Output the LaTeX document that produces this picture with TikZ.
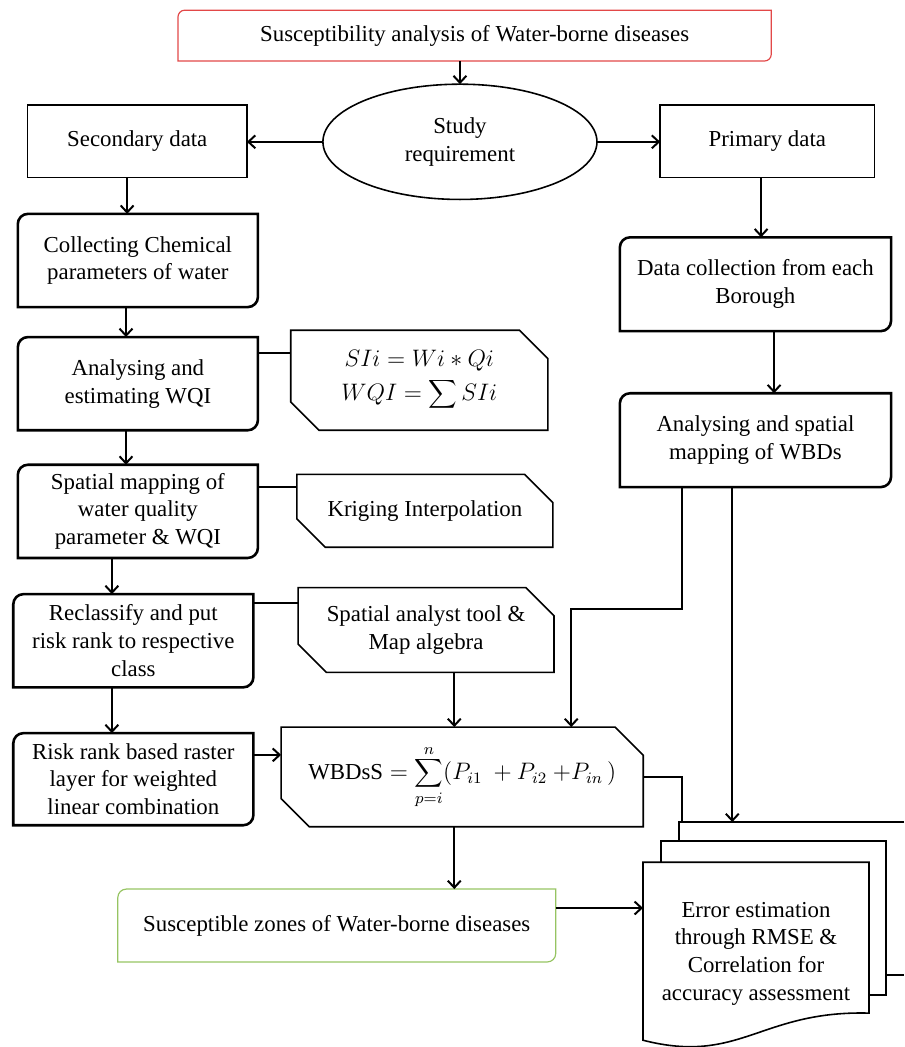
\documentclass[tikz,border=0pt]{standalone}
\usepackage{fontspec}
\setmainfont{Liberation Serif}
\usetikzlibrary{shapes.geometric,shapes.misc,arrows.meta}

\definecolor{titlered}{RGB}{226,72,72}
\definecolor{zonegreen}{RGB}{150,196,98}

\tikzset{
  every node/.style={font=\fontsize{11.5}{14}\selectfont, align=center, inner sep=2pt, outer sep=0pt},
  plainbox/.style={draw, line width=0.8pt, minimum width=3.88cm, minimum height=1.29cm},
  procbox/.style={minimum width=4.25cm, minimum height=1.65cm},
  snipbox/.style={draw, line width=0.8pt, chamfered rectangle,
    chamfered rectangle corners={north east,south west},
    chamfered rectangle xsep=0.25cm, chamfered rectangle ysep=0.25cm,
    minimum width=4.53cm, minimum height=1.29cm},
  conn/.style={line width=1pt, >={Straight Barb[length=3.5pt,width=6.5pt]}},
  thinconn/.style={line width=0.8pt},
  page/.style={draw, fill=white, line width=0.8pt}
}

\begin{document}
\begin{tikzpicture}
  \useasboundingbox (0,0) rectangle (16,-18.53);

  % top of the chart
  \node[minimum width=10.5cm, minimum height=0.9cm] (title) at (8.40,-0.63) {Susceptibility analysis of Water-borne diseases};
  \node[draw, ellipse, line width=0.8pt, minimum width=4.85cm, minimum height=2.04cm] (study) at (8.14,-2.51) {Study\\requirement};
  \node[plainbox] (secondary) at (2.43,-2.50) {Secondary data};
  \node[plainbox, minimum width=3.79cm] (primary) at (13.58,-2.50) {Primary data};

  % left column
  \node[procbox] (collect) at (2.44,-4.61) {Collecting Chemical\\parameters of water};
  \node[procbox] (wqi) at (2.44,-6.79) {Analysing and\\estimating WQI};
  \node[procbox] (mapping) at (2.44,-9.05) {Spatial mapping of\\water quality\\parameter \& WQI};
  \node[procbox] (reclass) at (2.36,-11.34) {Reclassify and put\\risk rank to respective\\class};
  \node[procbox, minimum height=1.63cm] (raster) at (2.36,-13.79) {Risk rank based raster\\layer for weighted\\linear combination};

  % tools and formulas
  \node[snipbox, minimum width=4.55cm, minimum height=1.77cm] (formula) at (7.42,-6.73) {$SIi = Wi * Qi$\\[3pt]$WQI = \displaystyle\sum SIi$};
  \node[snipbox] (kriging) at (7.52,-9.04) {Kriging Interpolation};
  \node[snipbox, minimum height=1.31cm] (spatial) at (7.54,-11.15) {Spatial analyst tool \&\\Map algebra};
  \node[snipbox, minimum width=6.41cm, minimum height=1.59cm] (wbdss) at (8.18,-13.75) {$\mbox{WBDsS} = \displaystyle\sum_{p=i}^{n}(P_{i1}\ + P_{i2}\ {+}P_{in}\,)$};

  % right column
  \node[procbox, minimum width=4.80cm, minimum height=1.66cm] (datacoll) at (13.37,-5.03) {Data collection from each\\Borough};
  \node[procbox, minimum width=4.80cm, minimum height=1.66cm] (wbdsmap) at (13.37,-7.79) {Analysing and spatial\\mapping of WBDs};

  % result
  \node[minimum width=7.75cm, minimum height=1.29cm] (zones) at (5.96,-16.38) {Susceptible zones of Water-borne diseases};

  % stacked pages
  \coordinate (backnw) at (12.02,-14.55);
  \draw[page] (16,-14.55) -- (backnw) -- (12.02,-17.26) -- (16,-17.26);
  \draw[page] (11.70,-14.88) rectangle (15.68,-17.61);
  \draw[page] (11.38,-15.26) -- (15.38,-15.26) -- (15.38,-17.93) .. controls (13.45,-17.88) and (13.10,-18.85) .. (11.38,-18.41) -- cycle;
  \node[minimum width=4.0cm] (errdoc) at (13.38,-16.88) {Error estimation\\through RMSE \&\\Correlation for\\accuracy assessment};

  % frames, rounded top left and bottom right
  \foreach \n/\c/\w/\r in {title/titlered/0.6pt/0.12cm, zones/zonegreen/0.6pt/0.15cm,
      collect/black/1.3pt/0.18cm, wqi/black/1.3pt/0.18cm, mapping/black/1.3pt/0.18cm,
      reclass/black/1.3pt/0.18cm, raster/black/1.3pt/0.18cm,
      datacoll/black/1.3pt/0.18cm, wbdsmap/black/1.3pt/0.18cm}
    \draw[\c, line width=\w] ([xshift=\r]\n.north west) -- (\n.north east) -- ([yshift=\r]\n.south east)
      arc[start angle=0, end angle=-90, radius=\r] -- (\n.south west) -- ([yshift=-\r]\n.north west)
      arc[start angle=180, end angle=90, radius=\r] -- cycle;

  % connectors
  \draw[conn, ->] (study.north |- title.south) -- (study.north);
  \draw[conn, ->] (study.west) -- (study.west -| secondary.east);
  \draw[conn, ->] (study.east) -- (study.east -| primary.west);
  \draw[conn, ->] (2.25,0 |- secondary.south) -- (2.25,0 |- collect.north);
  \draw[conn, ->] (2.23,0 |- collect.south) -- (2.23,0 |- wqi.north);
  \draw[conn, ->] (2.23,0 |- wqi.south) -- (2.23,0 |- mapping.north);
  \draw[conn, ->] (1.98,0 |- mapping.south) -- (1.98,0 |- reclass.north);
  \draw[conn, ->] (1.98,0 |- reclass.south) -- (1.98,0 |- raster.north);
  \draw[conn, ->] (13.47,0 |- primary.south) -- (13.47,0 |- datacoll.north);
  \draw[conn, ->] (13.70,0 |- datacoll.south) -- (13.70,0 |- wbdsmap.north);

  \draw[thinconn] (wqi.east |- 0,-6.25) -- (formula.west |- 0,-6.25);
  \draw[thinconn] (mapping.east |- 0,-8.62) -- (kriging.west |- 0,-8.62);
  \draw[thinconn] (reclass.east |- 0,-10.67) -- (spatial.west |- 0,-10.67);
  \draw[conn, ->] (raster.east |- 0,-13.36) -- (wbdss.west |- 0,-13.36);

  \draw[conn, ->] (8.04,0 |- spatial.south) -- (8.04,0 |- wbdss.north);
  \draw[conn, ->] (12.07,0 |- wbdsmap.south) -- (12.07,-10.78) -- (10.11,-10.78) -- (10.11,0 |- wbdss.north);
  \draw[conn, ->] (12.96,0 |- wbdsmap.south) -- (12.96,0 |- backnw);
  \draw[thinconn] (wbdss.east) -- (12.07,0 |- wbdss.east) -- (12.07,0 |- backnw);
  \draw[conn, ->] (8.04,0 |- wbdss.south) -- (8.04,0 |- zones.north);
  \draw[conn, ->] (zones.east |- 0,-16.07) -- (errdoc.west |- 0,-16.07);
\end{tikzpicture}
\end{document}
